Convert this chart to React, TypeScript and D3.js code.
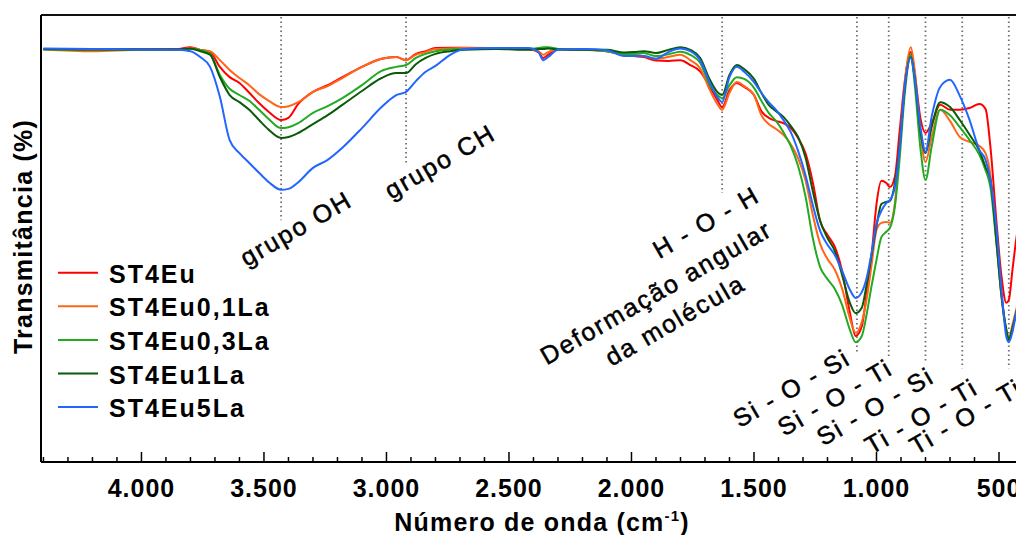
import React from "react";
import * as d3 from "d3";

// Wavenumber grid (cm-1), descending as in the original plot
const wavenumbers = [4400, 4200, 4000, 3850, 3800, 3760, 3720, 3680, 3640, 3600, 3560, 3520, 3480, 3430, 3400, 3360, 3300, 3240, 3180, 3100, 3020, 2960, 2920, 2880, 2840, 2800, 2740, 2680, 2550, 2420, 2380, 2360, 2340, 2300, 2200, 2100, 2030, 1990, 1950, 1900, 1850, 1800, 1760, 1720, 1680, 1650, 1630, 1600, 1570, 1540, 1500, 1470, 1440, 1410, 1380, 1350, 1320, 1290, 1260, 1230, 1200, 1170, 1140, 1110, 1085, 1060, 1040, 1020, 1000, 980, 960, 945, 925, 905, 885, 860, 845, 820, 800, 775, 740, 700, 660, 620, 580, 555, 535, 510, 490, 470, 460, 445, 430, 400];

// Transmittance (%)
const st4Eu = [92.4, 92.4, 92.4, 92.4, 92.8, 92.2, 91.7, 88.4, 86.1, 84.8, 82.6, 80.3, 78.3, 76.5, 77.0, 80.1, 82.8, 84.3, 86.1, 88.4, 90.2, 90.6, 89.9, 91.3, 91.9, 92.6, 92.7, 92.7, 92.6, 92.4, 91.7, 90.4, 91.1, 92.4, 92.3, 91.9, 91.1, 90.8, 90.6, 89.8, 89.7, 89.9, 88.8, 87.4, 83.9, 81.0, 79.4, 83.2, 84.8, 83.9, 82.1, 78.5, 77.0, 76.3, 75.8, 74.7, 72.5, 69.1, 62.6, 53.9, 50.8, 48.1, 42.7, 33.8, 28.2, 30.4, 37.8, 46.3, 57.7, 62.9, 62.4, 61.5, 63.8, 74.3, 85.0, 91.7, 87.3, 76.7, 73.6, 75.8, 79.9, 78.8, 78.8, 79.2, 80.1, 79.0, 70.5, 53.5, 41.6, 35.6, 36.2, 43.0, 49.7, 58.6];
const st4Eu01La = [92.3, 91.9, 92.2, 92.2, 92.6, 92.2, 91.9, 89.9, 87.7, 85.9, 84.3, 82.3, 80.8, 79.4, 79.6, 80.5, 82.8, 84.1, 85.9, 88.4, 90.2, 90.6, 89.9, 91.1, 91.7, 92.4, 92.5, 92.6, 92.5, 92.3, 91.9, 91.1, 91.7, 92.3, 92.2, 91.9, 91.1, 91.1, 90.8, 90.2, 90.6, 91.1, 89.9, 88.1, 83.2, 80.1, 78.8, 82.6, 85.0, 84.1, 82.1, 77.6, 75.6, 74.5, 73.2, 71.1, 68.0, 63.1, 55.3, 48.8, 45.4, 43.0, 38.7, 32.4, 28.9, 31.3, 36.5, 44.1, 51.9, 53.5, 53.7, 53.5, 57.9, 70.5, 84.6, 92.8, 88.1, 73.2, 67.1, 72.7, 78.8, 76.3, 72.7, 71.6, 70.7, 69.1, 64.2, 49.2, 36.9, 29.5, 27.7, 30.7, 34.0, 40.7];
const st4Eu03La = [92.3, 92.2, 92.2, 92.2, 92.4, 92.2, 91.3, 86.6, 83.5, 82.1, 80.8, 78.8, 76.7, 74.7, 74.9, 75.8, 78.1, 79.6, 81.4, 84.3, 87.5, 88.4, 88.8, 90.4, 91.3, 91.9, 92.3, 92.4, 92.5, 92.4, 92.6, 92.8, 92.8, 92.4, 92.3, 91.9, 91.3, 91.3, 91.5, 90.8, 91.2, 91.8, 91.1, 89.3, 84.3, 82.1, 81.4, 84.3, 86.1, 85.7, 83.7, 80.8, 78.1, 76.3, 73.8, 70.7, 66.2, 59.5, 50.1, 43.6, 40.9, 38.7, 35.1, 29.8, 26.8, 28.2, 33.1, 39.4, 45.2, 50.3, 51.5, 52.4, 57.1, 68.2, 82.1, 91.1, 85.0, 69.8, 63.1, 70.5, 78.8, 77.6, 74.9, 72.0, 68.7, 65.3, 61.5, 48.6, 37.4, 29.5, 27.3, 30.0, 33.3, 40.7];
const st4Eu1La = [92.4, 92.3, 92.3, 92.3, 92.5, 91.9, 91.1, 86.1, 82.1, 80.5, 78.8, 76.5, 74.3, 72.5, 72.7, 73.6, 75.6, 77.6, 79.9, 83.0, 85.9, 87.0, 87.0, 89.0, 90.4, 91.3, 91.9, 92.2, 92.4, 92.2, 92.4, 92.4, 92.5, 92.3, 92.2, 92.2, 91.6, 91.7, 91.9, 91.5, 92.2, 92.8, 92.2, 90.4, 85.5, 82.8, 82.1, 86.6, 88.8, 87.9, 85.7, 82.6, 79.9, 78.5, 77.2, 75.2, 72.7, 68.2, 60.6, 53.9, 50.1, 47.2, 41.8, 35.8, 33.3, 34.5, 39.8, 46.3, 52.8, 57.7, 58.2, 58.4, 62.4, 70.9, 83.7, 90.6, 86.4, 73.8, 69.1, 74.9, 80.5, 79.4, 76.5, 73.2, 69.6, 66.0, 63.1, 49.2, 37.4, 29.5, 27.3, 30.0, 33.3, 40.7];
const st4Eu5La = [92.5, 92.4, 92.3, 92.2, 91.9, 90.6, 88.4, 81.7, 72.0, 69.1, 66.9, 64.7, 62.6, 60.9, 61.1, 62.6, 65.8, 67.6, 70.3, 74.7, 79.4, 82.1, 82.8, 85.2, 87.3, 88.6, 91.1, 92.4, 92.6, 92.6, 91.7, 89.9, 90.6, 92.2, 92.4, 92.1, 90.8, 90.8, 90.8, 90.2, 91.7, 92.5, 91.9, 89.9, 84.8, 81.7, 80.5, 86.1, 88.4, 87.3, 85.0, 82.6, 80.5, 78.8, 76.5, 73.8, 69.6, 64.2, 57.5, 51.7, 48.6, 46.3, 42.7, 38.7, 36.7, 38.0, 41.2, 46.8, 53.3, 56.2, 57.9, 58.6, 61.5, 70.5, 83.7, 90.4, 86.4, 74.7, 69.4, 77.2, 83.9, 85.5, 81.9, 76.5, 69.8, 67.6, 63.1, 51.9, 38.5, 28.0, 26.8, 29.1, 33.3, 40.7];

const seriesNames = ["ST4Eu", "ST4Eu0,1La", "ST4Eu0,3La", "ST4Eu1La", "ST4Eu5La"];
const seriesColors = ["#ff0000", "#ff6619", "#22aa22", "#0a5a0a", "#2266ff"];
const seriesValues = [st4Eu, st4Eu01La, st4Eu03La, st4Eu1La, st4Eu5La];

const majorTicks = [4000, 3500, 3000, 2500, 2000, 1500, 1000, 500];
const minorTicks = d3.range(4400, 399, -100).filter((v) => !majorTicks.includes(v));

// Band marker lines (cm-1) and where they end (transmittance)
const bandLines = [3430, 2920, 1630, 1080, 950, 800, 650, 460];
const bandLineEnds = [54.1, 66.7, 60.2, 24.6, 23.7, 22.4, 21.0, 21.0];

// Annotation texts and centres (cm-1, transmittance)
const noteTexts = ["grupo OH", "grupo CH", "H - O - H", "Deformação angular", "da molécula", "Si - O - Si", "Si - O - Ti", "Si - O - Si", "Ti - O - Ti", "Ti - O - Ti"];
const noteWn = [3370, 2782, 1696, 1900, 1823, 1347, 1170, 1006, 818, 636];
const noteT = [52.3, 67.3, 53.7, 38.0, 31.8, 16.6, 14.5, 12.5, 10.3, 10.2];

const FONT = "'Liberation Sans', Arial, Helvetica, sans-serif";

const ptFormat = d3.formatLocale({ decimal: ",", thousands: ".", grouping: [3], currency: ["", ""] }).format(",d");

export default function App() {
  const W = 1016;
  const H = 535;
  const x = d3.scaleLinear().domain([4410, 400]).range([41, 1023.5]);
  const y = d3.scaleLinear().domain([0, 100]).range([462, 15]);
  const line = d3
    .line<[number, number]>()
    .x((d) => x(d[0]))
    .y((d) => y(d[1]))
    .curve(d3.curveMonotoneX);

  const top = y(100);
  const bottom = y(0);
  const left = x(4410);

  return (
    <>
      <style>{"body{margin:0;}"}</style>
      <svg width={W} height={H} style={{ display: "block", background: "#fff" }} fontFamily={FONT}>
        <rect x={0} y={0} width={W} height={H} fill="#fff" />
        {/* band marker lines */}
        {bandLines.map((b, i) => (
          <line
            key={"b" + i}
            x1={x(b)}
            x2={x(b)}
            y1={top + 2}
            y2={y(bandLineEnds[i])}
            stroke="#707070"
            strokeWidth={1.8}
            strokeDasharray="1.6 2.9"
          />
        ))}
        {/* spectra */}
        {seriesValues.map((vals, si) => (
          <path
            key={"s" + si}
            d={line(wavenumbers.map((w, i) => [w, vals[i]]) as [number, number][]) || ""}
            fill="none"
            stroke={seriesColors[si]}
            strokeWidth={2}
            strokeLinejoin="round"
          />
        ))}
        {/* frame */}
        <line x1={left} x2={W} y1={top} y2={top} stroke="#111" strokeWidth={2} />
        <line x1={left} x2={left} y1={top} y2={bottom} stroke="#000" strokeWidth={2} />
        <line x1={left} x2={W} y1={bottom} y2={bottom} stroke="#000" strokeWidth={2} />
        {/* ticks */}
        {majorTicks.map((t) => (
          <g key={"M" + t}>
            <line x1={x(t)} x2={x(t)} y1={bottom} y2={bottom - 10} stroke="#000" strokeWidth={1.5} />
            <text x={x(t)} y={497} textAnchor="middle" fontSize={25} fontWeight="bold" letterSpacing={1}>
              {ptFormat(t)}
            </text>
          </g>
        ))}
        {minorTicks.map((t) => (
          <line key={"m" + t} x1={x(t)} x2={x(t)} y1={bottom} y2={bottom - 5} stroke="#000" strokeWidth={1.5} />
        ))}
        {/* axis titles */}
        <text x={542} y={531} textAnchor="middle" fontSize={25} fontWeight="bold" letterSpacing={1.2}>
          <tspan>Número de onda (cm</tspan>
          <tspan dy={-10} fontSize={15}>-1</tspan>
          <tspan dy={10}>)</tspan>
        </text>
        <text
          transform="translate(31.5,236.5) rotate(-90)"
          textAnchor="middle"
          fontSize={25}
          fontWeight="bold"
          letterSpacing={1.25}
        >
          Transmitância (%)
        </text>
        {/* annotations */}
        {noteTexts.map((t, i) => {
          const cx = x(noteWn[i]);
          const cy = y(noteT[i]);
          return (
            <text
              key={"n" + i}
              x={cx}
              y={cy}
              textAnchor="middle"
              dominantBaseline="central"
              fontSize={25}
              letterSpacing={2}
              stroke="#000"
              strokeWidth={0.5}
              transform={`rotate(-30, ${cx}, ${cy})`}
            >
              {t}
            </text>
          );
        })}
        {/* legend */}
        {seriesNames.map((n, i) => {
          const ly = 272.7 + 33.6 * i;
          return (
            <g key={"l" + i}>
              <line x1={58} x2={98} y1={ly} y2={ly} stroke={seriesColors[i]} strokeWidth={2} />
              <text x={109} y={ly + 10} fontSize={25} fontWeight="bold" letterSpacing={2}>
                {n}
              </text>
            </g>
          );
        })}
      </svg>
    </>
  );
}
